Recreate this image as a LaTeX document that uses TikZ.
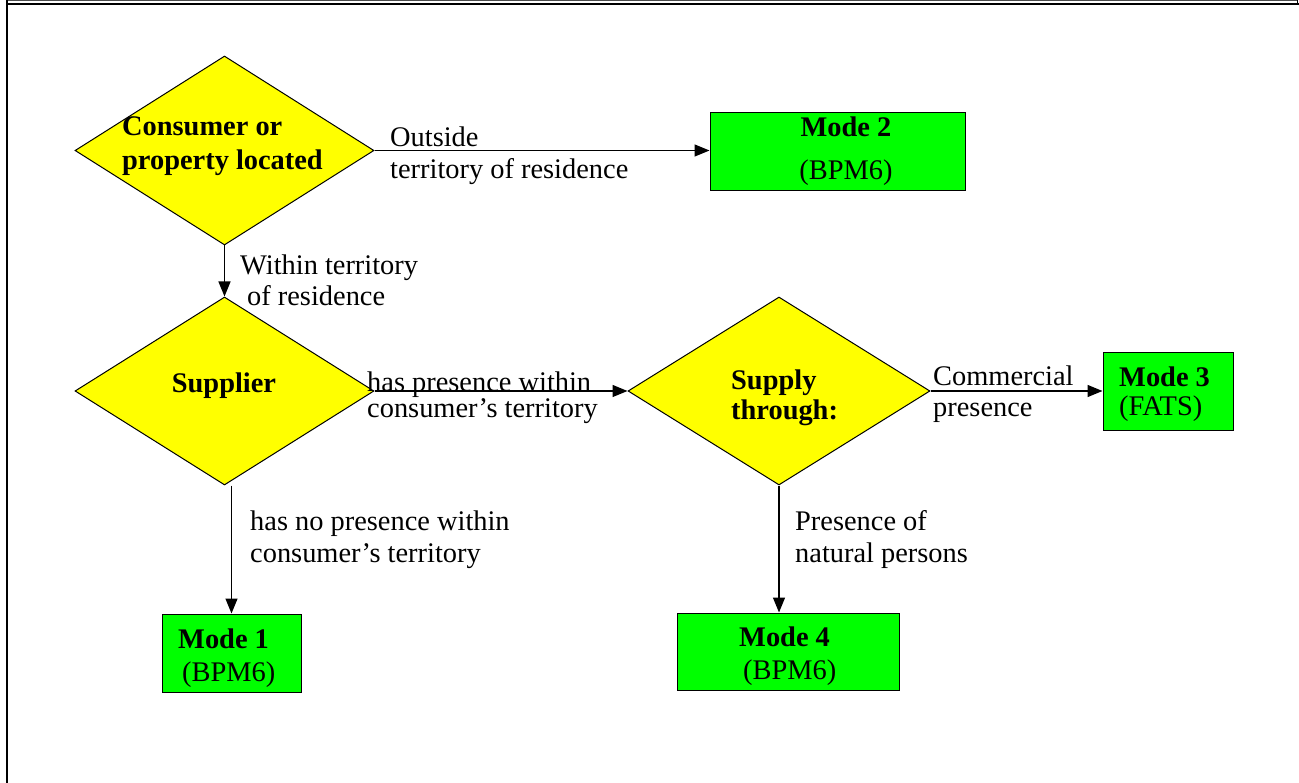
\documentclass[tikz,border=0pt]{standalone}
\usepackage{fontspec}
\setmainfont{Liberation Serif}
\usetikzlibrary{shapes.geometric,arrows.meta}
\definecolor{dyellow}{RGB}{255,255,0}
\definecolor{mgreen}{RGB}{0,255,0}
\tikzset{
  dia/.style={diamond,draw=black,fill=dyellow,line width=1pt,inner sep=0pt},
  modebox/.style={rectangle,draw=black,fill=mgreen,line width=1pt,inner sep=0pt},
  tx/.style={inner sep=0pt,align=left,anchor=west,font=\fontsize{28.4}{32}\selectfont},
  btx/.style={tx,font=\fontsize{28.4}{33}\selectfont\bfseries},
  conn/.style={line width=1.3pt,-{Triangle[length=15pt,width=12pt]}},
  frameline/.style={line width=2pt,black}
}
\begin{document}
\begin{tikzpicture}[x=1pt,y=-1pt]
\useasboundingbox (0,0) rectangle (1299,783);
% frame
\draw[line width=1pt,black!70] (7,0.5) -- (1297,0.5);
\draw[line width=2.2pt] (6,4.3) -- (1298.5,4.3);
\draw[frameline] (7,0) -- (7,783);
\draw[line width=1.4pt] (1297.6,0) -- (1297.6,5);
% diamonds
\node[dia,minimum width=299pt,minimum height=189pt] (d1) at (224.5,150.5) {};
\node[dia,minimum width=299pt,minimum height=188pt] (d2) at (224.5,391) {};
\node[dia,minimum width=302pt,minimum height=188pt] (d3) at (779,391) {};
% boxes
\node[modebox,minimum width=255pt,minimum height=78pt] (m2) at (837.5,152) {};
\node[modebox,minimum width=130pt,minimum height=78pt] (m3) at (1168,392) {};
\node[modebox,minimum width=139pt,minimum height=78pt] (m1) at (231.5,653) {};
\node[modebox,minimum width=222pt,minimum height=77pt] (m4) at (788,651.5) {};
% texts in shapes
\node[btx,font=\fontsize{28.4}{34}\selectfont\bfseries] (t1) at (122,146.4) {Consumer or\\property located};
\node[btx,anchor=center] (t2) at (224,386) {Supplier};
\node[btx,font=\fontsize{28.4}{30}\selectfont\bfseries] (t3) at (731,397.9) {Supply\\through:};
\node[tx,anchor=center,align=center,font=\fontsize{28.4}{43}\selectfont] (tm2) at (846,151.5) {\textbf{Mode 2}\\(BPM6)};
\node[tx,font=\fontsize{28.4}{29}\selectfont] (tm3) at (1119,394.5) {\textbf{Mode 3}\\(FATS)};
\node[tx,font=\fontsize{28.4}{33}\selectfont] (tm1) at (178,658.5) {\textbf{Mode 1}\\\hspace*{4pt}(BPM6)};
\node[tx,font=\fontsize{28.4}{33}\selectfont] (tm4) at (739,656.5) {\textbf{Mode 4}\\\hspace*{4pt}(BPM6)};
% connectors
\draw[conn] (d1.east) -- (d1.east -| m2.west);
\draw[conn] (d1.south) -- (d2.north);
\draw[conn] (d2.east) -- (d3.west);
\draw[conn] (d3.east) -- (d3.east -| m3.west);
\draw[conn] (m1.north |- d2.south) -- (m1.north);
\draw[conn] (d3.south) -- (d3.south |- m4.north);
% connector labels
\node[tx] (l1) at (390,155.4) {Outside\\territory of residence};
\node[tx,font=\fontsize{28.4}{31}\selectfont] (l2) at (240,279.8) {Within territory\\\hspace*{7pt}of residence};
\node[tx,font=\fontsize{28.4}{26}\selectfont] (l3) at (367,398) {has presence within\\consumer’s territory};
\node[tx,font=\fontsize{28.4}{31}\selectfont] (l4) at (933,393.9) {Commercial\\presence};
\node[tx] (l5) at (250,539.4) {has no presence within\\consumer’s territory};
\node[tx] (l6) at (795,539.4) {Presence of\\natural persons};
\end{tikzpicture}
\end{document}
